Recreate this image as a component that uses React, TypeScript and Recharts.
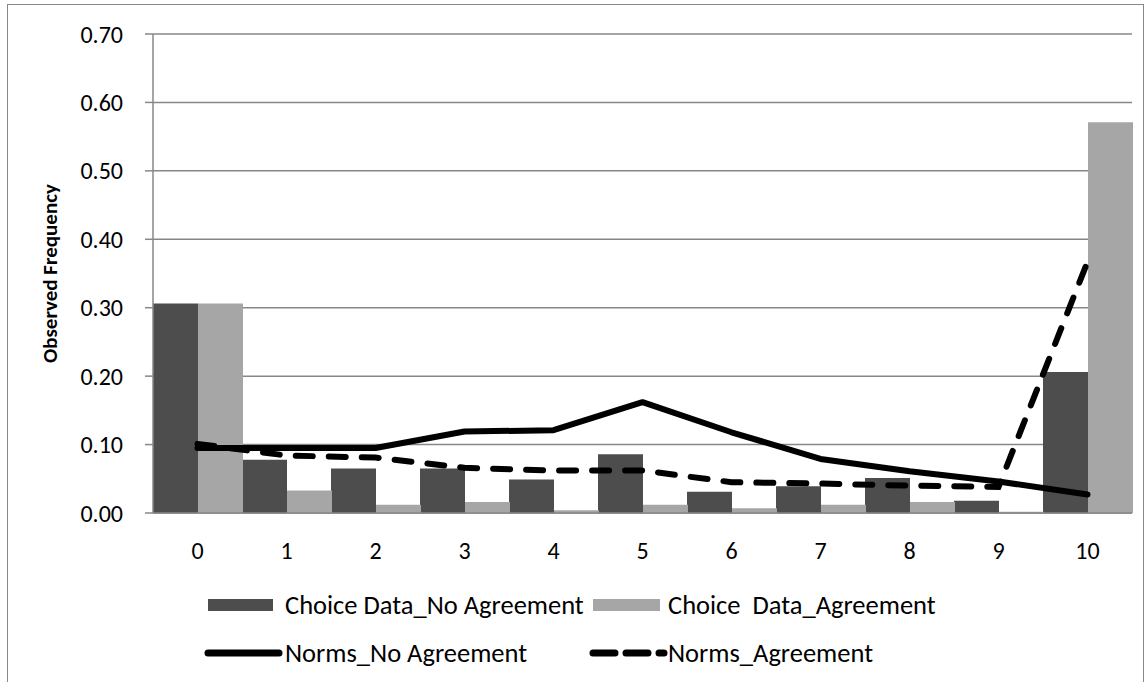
import React from "react";
import { Bar, ComposedChart, Legend, Line, CartesianGrid, XAxis, YAxis } from "recharts";

const categories = ["0", "1", "2", "3", "4", "5", "6", "7", "8", "9", "10"];

const choiceNoAgreement = [0.306, 0.078, 0.065, 0.065, 0.049, 0.086, 0.031, 0.039, 0.051, 0.018, 0.206];
const choiceAgreement = [0.306, 0.033, 0.012, 0.016, 0.004, 0.012, 0.007, 0.012, 0.016, 0.002, 0.571];
const normsNoAgreement = [0.095, 0.095, 0.095, 0.119, 0.121, 0.162, 0.118, 0.079, 0.061, 0.046, 0.027];
const normsAgreement = [0.101, 0.084, 0.081, 0.066, 0.062, 0.062, 0.045, 0.043, 0.040, 0.038, 0.367];

const yTicks = [0, 0.1, 0.2, 0.3, 0.4, 0.5, 0.6, 0.7];

const data = categories.map((cat, i) => ({
  cat,
  choiceNo: choiceNoAgreement[i],
  choiceYes: choiceAgreement[i],
  normsNo: normsNoAgreement[i],
  normsYes: normsAgreement[i],
}));

const FONT = "Carlito, Calibri, Lato, sans-serif";
const DARK = "#4d4d4d";
const LIGHT = "#a6a6a6";
const GRID = "#878787";

function LegendBox() {
  const text: React.CSSProperties = {
    position: "absolute",
    fontFamily: FONT,
    fontSize: 26.5,
    color: "#000",
    lineHeight: "28px",
    whiteSpace: "pre",
  };
  return (
    <div style={{ position: "relative", width: 1147, height: 92 }}>
      <div style={{ position: "absolute", left: 208, top: 9, width: 65, height: 12, background: DARK }} />
      <div style={{ ...text, left: 285, top: 1 }}>Choice Data_No Agreement</div>
      <div style={{ position: "absolute", left: 593, top: 9, width: 67, height: 12, background: LIGHT }} />
      <div style={{ ...text, left: 668, top: 1 }}>Choice  Data_Agreement</div>

      <svg style={{ position: "absolute", left: 0, top: 0 }} width={1147} height={92}>
        <line x1={208} y1={63} x2={279} y2={63} stroke="#000" strokeWidth={7} strokeLinecap="round" />
        <line x1={593} y1={63} x2={664} y2={63} stroke="#000" strokeWidth={7} strokeLinecap="round" strokeDasharray="22 11" />
      </svg>
      <div style={{ ...text, left: 285, top: 49 }}>Norms_No Agreement</div>
      <div style={{ ...text, left: 668, top: 49 }}>Norms_Agreement</div>
    </div>
  );
}

export default function App() {
  return (
    <div style={{ position: "absolute", left: 0, top: 0, width: 1147, height: 682, background: "#fff", overflow: "hidden" }}>
      <div
        style={{
          position: "absolute",
          left: 7,
          top: 4,
          width: 1135,
          height: 700,
          border: `1.5px solid ${GRID}`,
        }}
      />
      <ComposedChart
        width={1147}
        height={682}
        data={data}
        margin={{ top: 34, right: 15, bottom: 129, left: 0 }}
        barCategoryGap={0}
        barGap={0}
      >
        <CartesianGrid vertical={false} stroke={GRID} strokeWidth={1.5} />
        <XAxis
          dataKey="cat"
          height={40}
          tickLine={false}
          axisLine={{ stroke: GRID, strokeWidth: 1.5 }}
          tick={{ fill: "#000", fontFamily: FONT, fontSize: 24 }}
          tickMargin={23}
        />
        <YAxis
          width={153}
          domain={[0, 0.7]}
          ticks={yTicks}
          interval={0}
          tickFormatter={(v: number) => v.toFixed(2)}
          axisLine={{ stroke: GRID, strokeWidth: 1.5 }}
          tickLine={{ stroke: GRID, strokeWidth: 1.5 }}
          tickSize={8}
          tickMargin={22}
          tick={{ fill: "#000", fontFamily: FONT, fontSize: 24 }}
          label={{
            content: ({ viewBox }: any) => {
              const cx = viewBox.x + 50;
              const cy = viewBox.y + viewBox.height / 2;
              return (
                <text
                  x={cx}
                  y={cy}
                  transform={`rotate(-90 ${cx} ${cy})`}
                  textAnchor="middle"
                  dominantBaseline="central"
                  fontFamily={FONT}
                  fontSize={21}
                  fontWeight="bold"
                  fill="#000"
                >
                  Observed Frequency
                </text>
              );
            },
          }}
        />
        <Bar dataKey="choiceNo" name="Choice Data_No Agreement" fill={DARK} isAnimationActive={false} />
        <Bar dataKey="choiceYes" name="Choice  Data_Agreement" fill={LIGHT} isAnimationActive={false} />
        <Line
          dataKey="normsNo"
          name="Norms_No Agreement"
          type="linear"
          stroke="#000"
          strokeWidth={6}
          strokeLinejoin="round"
          strokeLinecap="round"
          dot={false}
          activeDot={false}
          isAnimationActive={false}
        />
        <Line
          dataKey="normsYes"
          name="Norms_Agreement"
          type="linear"
          stroke="#000"
          strokeWidth={6}
          strokeLinecap="round"
          strokeDasharray="17 16"
          dot={false}
          activeDot={false}
          isAnimationActive={false}
        />
        <Legend
          layout="horizontal"
          verticalAlign="middle"
          align="center"
          wrapperStyle={{ left: 0, top: 590, width: 1147, height: 92 }}
          content={() => <LegendBox />}
        />
      </ComposedChart>
    </div>
  );
}
